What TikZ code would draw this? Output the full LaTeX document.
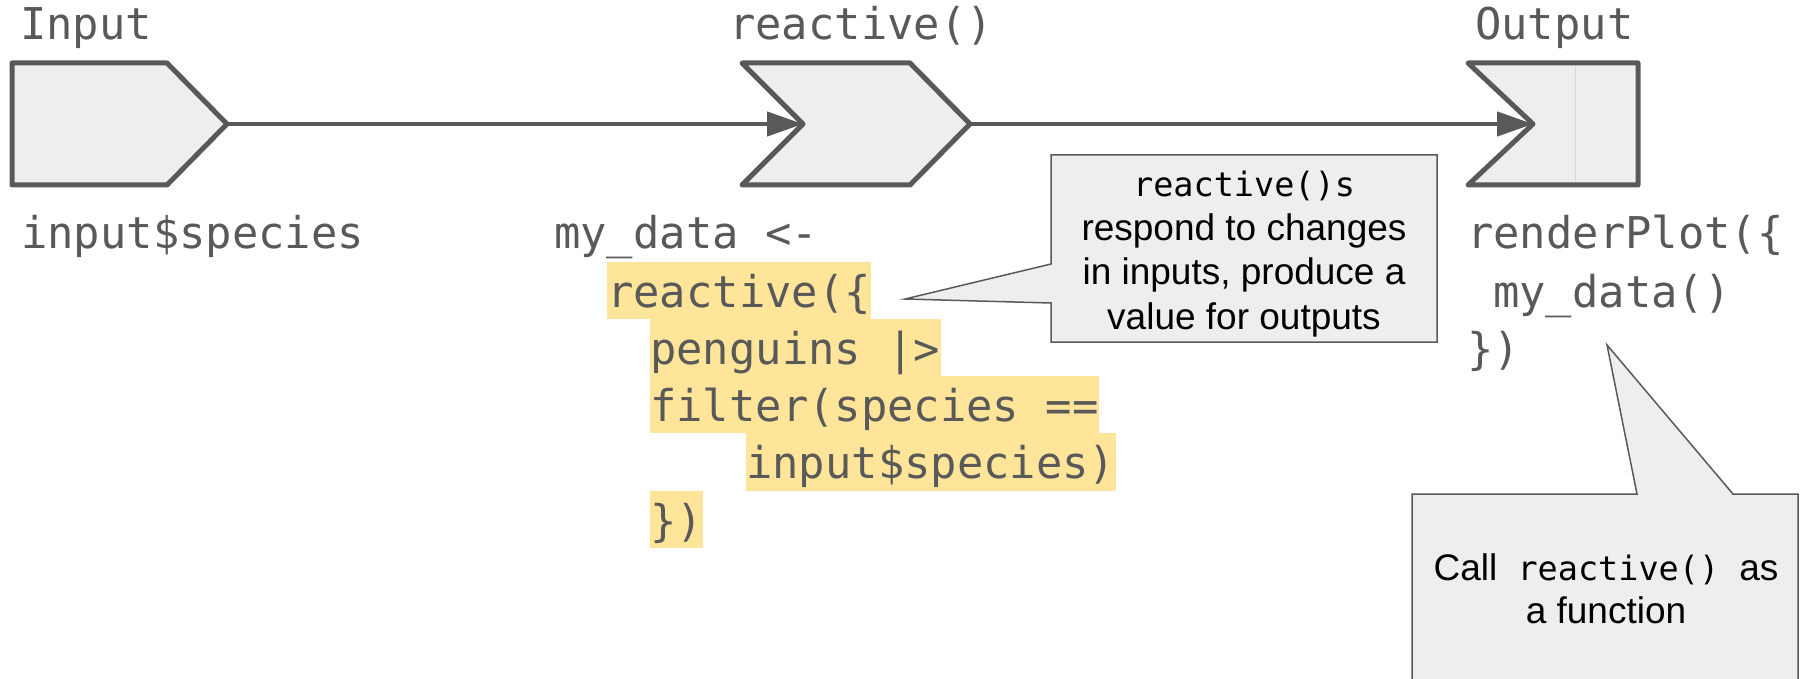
\documentclass[tikz,border=0pt]{standalone}
\usepackage{fontspec}
\setmainfont{Liberation Sans}
\setmonofont{DejaVu Sans Mono}
\usetikzlibrary{arrows.meta}
\definecolor{ink}{HTML}{595959}
\definecolor{shapefill}{HTML}{EEEEEE}
\definecolor{hl}{HTML}{FFE599}
\definecolor{divider}{HTML}{D9D9D9}
\tikzset{
  flowshape/.style={draw=ink, fill=shapefill, line width=5pt, line join=round},
  flowarrow/.style={draw=ink, line width=4.5pt, -{Triangle[length=36pt,width=24pt]}},
  codetxt/.style={anchor=base west, inner sep=0pt, text=ink, font=\fontsize{43.8}{50}\ttfamily},
  hlbox/.style={fill=hl, draw=none},
  callout/.style={draw=ink, fill=shapefill, line width=1.5pt, line join=miter},
  calltxt/.style={anchor=base, inner sep=0pt, text=black, font=\fontsize{37}{44}\selectfont},
  callmono/.style={font=\fontsize{33.5}{44}\ttfamily}
}
\begin{document}
\begin{tikzpicture}[x=1pt,y=-1pt]
\useasboundingbox (0,0) rectangle (1800,679);
\clip (0,0) rectangle (1800,679);

% named coordinates for the shapes
\coordinate (intip) at (227,124);
\coordinate (rnotch) at (803,124);
\coordinate (rtip) at (970,124);
\coordinate (onotch) at (1533,124);

% Input shape
\path[flowshape] (12,63) -- (167,63) -- (intip) -- (167,185) -- (12,185) -- cycle;
% reactive chevron
\path[flowshape] (742,63) -- (910,63) -- (rtip) -- (910,185) -- (742,185) -- (rnotch) -- cycle;
% Output shape
\path[flowshape] (1468,63) -- (1638,63) -- (1638,185) -- (1468,185) -- (onotch) -- cycle;
\draw[divider, line width=1pt] (1575,66) -- (1575,182);

% connectors
\draw[flowarrow] (intip) -- (rnotch);
\draw[flowarrow] (rtip) -- (onotch);

% top labels
\node[codetxt] (lblin) at (20,40) {Input};
\node[codetxt] (lblre) at (729,40) {reactive()};
\node[codetxt] (lblout) at (1475,40) {Output};

% input code
\node[codetxt] (incode) at (21,249) {input\$species};

% reactive code with highlights
\path[hlbox] (607,262) rectangle (871,319);
\path[hlbox] (650,319) rectangle (941,376);
\path[hlbox] (650,376) rectangle (1099,433);
\path[hlbox] (746,433) rectangle (1116,491);
\path[hlbox] (650,491) rectangle (703,548);
\node[codetxt] (rc1) at (554,249) {my\_data <-};
\node[codetxt] (rc2) at (607,307) {reactive(\{};
\node[codetxt] (rc3) at (650,364) {penguins |>};
\node[codetxt] (rc4) at (650,421) {filter(species ==};
\node[codetxt] (rc5) at (746,478) {input\$species)};
\node[codetxt] (rc6) at (650,536) {\})};

% output code
\node[codetxt] (oc1) at (1467,249) {renderPlot(\{};
\node[codetxt] (oc2) at (1493,307) {my\_data()};
\node[codetxt] (oc3) at (1467,364) {\})};

% callout 1
\coordinate (c1tip) at (905,299);
\path[callout] (1051,155) -- (1437,155) -- (1437,342) -- (1051,342) -- (1051,303) -- (c1tip) -- (1051,264) -- cycle;
\node[calltxt, callmono] (c1a) at (1244,197) {reactive()s};
\node[calltxt] (c1b) at (1244,241) {respond to changes};
\node[calltxt] (c1c) at (1244,285) {in inputs, produce a};
\node[calltxt] (c1d) at (1244,329) {value for outputs};

% callout 2
\coordinate (c2tip) at (1607,345);
\path[callout] (1412,494) -- (1637,494) -- (c2tip) -- (1733,494) -- (1798,494) -- (1798,720) -- (1412,720) -- cycle;
\node[calltxt] (c2a) at (1606,580) {Call{\fontsize{33.5}{44}\ttfamily\ reactive()\ }as};
\node[calltxt] (c2b) at (1606,623) {a function};
\end{tikzpicture}
\end{document}
